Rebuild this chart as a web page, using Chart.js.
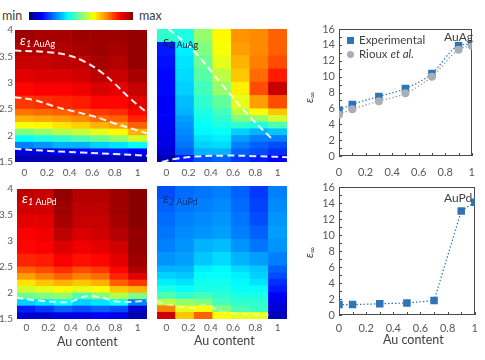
<!DOCTYPE html>
<html>
<head>
<meta charset="utf-8">
<script src="https://cdn.jsdelivr.net/npm/chart.js@4.4.1/dist/chart.umd.min.js"></script>
<style>
  html, body { margin: 0; padding: 0; background: #fff; }
  #fig { position: relative; width: 485px; height: 360px; overflow: hidden; font-family: Lato, "Open Sans", sans-serif; color: #404040; }
  #fig canvas { position: absolute; }
  .txt { position: absolute; white-space: nowrap; line-height: 1; }
  .eps { position: absolute; white-space: nowrap; line-height: 1; font-size: 14px; }
  .eps sub { font-size: 9px; vertical-align: -2px; }
  .ylab { position: absolute; font-size: 12px; transform: rotate(-90deg); transform-origin: center; white-space: nowrap; line-height: 1; }
  .ylab sub { font-size: 8px; vertical-align: -2px; }
</style>
</head>
<body>
<div id="fig">
  <div class="txt" style="left:2px;top:10px;font-size:12.5px">min</div>
  <div id="cbar" style="position:absolute;left:29px;top:12px;width:104px;height:8px"></div>
  <div class="txt" style="left:139px;top:10px;font-size:12.5px">max</div>

  <canvas id="h1" width="150" height="160" style="left:0;top:22px"></canvas>
  <canvas id="h2" width="140" height="160" style="left:150px;top:22px"></canvas>
  <canvas id="h3" width="150" height="160" style="left:0;top:179px"></canvas>
  <canvas id="h4" width="140" height="160" style="left:150px;top:179px"></canvas>
  <canvas id="r1" width="195" height="175" style="left:290px;top:15px"></canvas>
  <canvas id="r2" width="195" height="175" style="left:290px;top:175px"></canvas>

  <div class="eps" style="left:20px;top:33px;color:#fff"><i>ε</i><sub><i>1</i> AuAg</sub></div>
  <div class="eps" style="left:163px;top:34px;color:#1a1a2e"><i>ε</i><sub><i>2</i> AuAg</sub></div>
  <div class="eps" style="left:22px;top:191px;color:#fff"><i>ε</i><sub><i>1</i> AuPd</sub></div>
  <div class="eps" style="left:163px;top:191px;color:#1b2a6b"><i>ε</i><sub><i>2</i> AuPd</sub></div>

  <div class="txt" style="left:57px;top:336px;font-size:12.5px">Au content</div>
  <div class="txt" style="left:194px;top:335px;font-size:12.5px">Au content</div>
  <div class="txt" style="left:383px;top:334px;font-size:12.5px">Au content</div>

  <div class="ylab" style="left:304px;top:91px"><i>ε</i><sub>∞</sub></div>
  <div class="ylab" style="left:304px;top:246px"><i>ε</i><sub>∞</sub></div>

  <div style="position:absolute;left:347px;top:37px;width:7px;height:7px;background:#2E75B6"></div>
  <div class="txt" style="left:359px;top:34px;font-size:11.5px">Experimental</div>
  <div style="position:absolute;left:347px;top:51px;width:7px;height:7px;border-radius:50%;background:#A9AEB9"></div>
  <div class="txt" style="left:359px;top:48px;font-size:11.5px">Rioux <i>et al.</i></div>
  <div class="txt" style="left:444px;top:31px;font-size:12px">AuAg</div>
  <div class="txt" style="left:444px;top:192px;font-size:12px">AuPd</div>
</div>
<script>
// composition axis (right panels)
const auContent = [0, 0.1, 0.3, 0.5, 0.7, 0.9, 1];
const epsInfAuAgExp = [5.8, 6.5, 7.5, 8.5, 10.4, 13.9, 14.1];
const epsInfAuAgRioux = [5.2, 5.9, 6.9, 7.9, 10.0, 13.4, 13.9];
const epsInfAuPdExp = [1.3, 1.3, 1.4, 1.5, 1.8, 13.0, 14.1];

const epsTicks = [0, 2, 4, 6, 8, 10, 12, 14, 16];
const compTicks = [0, 0.2, 0.4, 0.6, 0.8, 1];
const compLabels = ["0", "0.2", "0.4", "0.6", "0.8", "1"];

// heatmaps: columns at these compositions, rows between energy edges (eV)
const xCenters = [0, 0.1667, 0.3333, 0.5, 0.6667, 0.8333, 1];
const energyEdges = [1.5, 1.625, 1.75, 1.875, 2, 2.125, 2.25, 2.375, 2.5, 2.75, 3, 3.25, 3.5, 3.75, 4];
const energyTicks = [1.5, 2, 2.5, 3, 3.5, 4];
const energyLabels = ["1.5", "2", "2.5", "3", "3.5", "4"];

// normalised level (0 = min, 1 = max), one list per column, bottom row first
const e1AuAg = [
  [0.05, 0.1, 0.25, 0.38, 0.5, 0.62, 0.7, 0.76, 0.82, 0.87, 0.9, 0.93, 0.95, 0.97],
  [0.05, 0.1, 0.27, 0.4, 0.52, 0.63, 0.71, 0.77, 0.83, 0.88, 0.91, 0.93, 0.95, 0.96],
  [0.05, 0.12, 0.3, 0.42, 0.55, 0.65, 0.72, 0.78, 0.84, 0.88, 0.91, 0.94, 0.95, 0.96],
  [0.05, 0.12, 0.3, 0.45, 0.57, 0.67, 0.74, 0.8, 0.85, 0.89, 0.92, 0.94, 0.96, 0.97],
  [0.06, 0.14, 0.33, 0.48, 0.6, 0.7, 0.77, 0.82, 0.87, 0.91, 0.94, 0.96, 0.97, 0.97],
  [0.06, 0.15, 0.35, 0.52, 0.63, 0.72, 0.78, 0.83, 0.87, 0.9, 0.93, 0.95, 0.96, 0.97],
  [0.05, 0.12, 0.38, 0.58, 0.7, 0.78, 0.84, 0.87, 0.9, 0.93, 0.96, 0.98, 0.98, 0.98]
];
const e2AuAg = [
  [0.05, 0.08, 0.1, 0.1, 0.11, 0.11, 0.12, 0.12, 0.12, 0.13, 0.13, 0.14, 0.15, 0.42],
  [0.15, 0.22, 0.24, 0.25, 0.26, 0.27, 0.28, 0.3, 0.31, 0.33, 0.34, 0.35, 0.36, 0.4],
  [0.2, 0.3, 0.33, 0.35, 0.37, 0.38, 0.39, 0.4, 0.42, 0.44, 0.46, 0.48, 0.5, 0.52],
  [0.22, 0.3, 0.34, 0.36, 0.38, 0.4, 0.42, 0.44, 0.47, 0.52, 0.56, 0.6, 0.62, 0.63],
  [0.18, 0.22, 0.25, 0.28, 0.33, 0.42, 0.5, 0.56, 0.6, 0.64, 0.68, 0.7, 0.72, 0.73],
  [0.15, 0.2, 0.22, 0.25, 0.3, 0.4, 0.52, 0.62, 0.72, 0.8, 0.77, 0.75, 0.74, 0.74],
  [0.12, 0.17, 0.2, 0.25, 0.32, 0.45, 0.58, 0.68, 0.8, 0.93, 0.85, 0.8, 0.78, 0.78]
];
const e1AuPd = [
  [0.08, 0.15, 0.33, 0.48, 0.58, 0.65, 0.72, 0.78, 0.84, 0.87, 0.88, 0.9, 0.92, 0.94],
  [0.08, 0.18, 0.35, 0.5, 0.6, 0.68, 0.75, 0.8, 0.85, 0.88, 0.89, 0.9, 0.92, 0.93],
  [0.1, 0.22, 0.38, 0.52, 0.62, 0.7, 0.78, 0.83, 0.88, 0.91, 0.94, 0.96, 0.97, 0.98],
  [0.1, 0.2, 0.33, 0.45, 0.6, 0.68, 0.75, 0.8, 0.86, 0.89, 0.91, 0.93, 0.94, 0.95],
  [0.12, 0.22, 0.35, 0.5, 0.62, 0.7, 0.77, 0.82, 0.87, 0.9, 0.92, 0.93, 0.94, 0.95],
  [0.1, 0.2, 0.38, 0.55, 0.68, 0.78, 0.84, 0.87, 0.9, 0.92, 0.95, 0.96, 0.97, 0.97],
  [0.05, 0.08, 0.25, 0.5, 0.7, 0.82, 0.9, 0.95, 0.97, 0.98, 0.98, 0.99, 0.99, 0.99]
];
const e2AuPd = [
  [0.92, 0.75, 0.55, 0.45, 0.4, 0.36, 0.33, 0.3, 0.27, 0.25, 0.24, 0.23, 0.22, 0.2],
  [0.68, 0.6, 0.52, 0.42, 0.38, 0.35, 0.32, 0.3, 0.28, 0.27, 0.26, 0.25, 0.24, 0.23],
  [0.78, 0.62, 0.5, 0.44, 0.4, 0.39, 0.38, 0.36, 0.32, 0.3, 0.27, 0.26, 0.25, 0.24],
  [0.62, 0.5, 0.44, 0.42, 0.4, 0.39, 0.38, 0.37, 0.34, 0.31, 0.28, 0.27, 0.26, 0.25],
  [0.6, 0.45, 0.42, 0.4, 0.38, 0.37, 0.36, 0.34, 0.3, 0.27, 0.25, 0.24, 0.23, 0.22],
  [0.6, 0.43, 0.42, 0.4, 0.38, 0.35, 0.33, 0.32, 0.28, 0.24, 0.22, 0.2, 0.19, 0.18],
  [0.06, 0.08, 0.1, 0.12, 0.15, 0.17, 0.2, 0.22, 0.25, 0.27, 0.28, 0.27, 0.26, 0.25]
];

// white dashed guide curves
const e1AuAgTopX = [-0.09, 0.21, 0.39, 0.54, 0.68, 0.8, 0.92, 1.09];
const e1AuAgTopE = [3.61, 3.58, 3.52, 3.39, 3.2, 2.98, 2.73, 2.42];
const e1AuAgMidX = [-0.09, 0.09, 0.27, 0.45, 0.62, 0.8, 1.09];
const e1AuAgMidE = [2.73, 2.67, 2.55, 2.45, 2.36, 2.23, 2.04];
const e1AuAgLowX = [-0.09, 0.21, 0.51, 0.8, 1.09];
const e1AuAgLowE = [1.75, 1.71, 1.68, 1.65, 1.62];
const e2AuAgDiagX = [0.02, 0.24, 0.51, 0.75, 0.96];
const e2AuAgDiagE = [4.0, 3.6, 2.93, 2.35, 1.91];
const e2AuAgLowX = [-0.04, 0.06, 0.24, 0.54, 0.81, 1.09];
const e2AuAgLowE = [1.5, 1.55, 1.6, 1.62, 1.61, 1.59];
const e1AuPdX = [-0.09, 0.08, 0.26, 0.39, 0.54, 0.68, 0.83, 1.09];
const e1AuPdE = [1.91, 1.86, 1.83, 1.83, 1.94, 1.91, 1.83, 1.85];
const e2AuPdX = [-0.09, 0.09, 0.24, 0.36, 0.48, 0.66, 0.92];
const e2AuPdE = [1.83, 1.74, 1.71, 1.77, 1.65, 1.6, 1.58];

const fontFamily = "Lato, 'Open Sans', sans-serif";
const tickGray = "#595959";
const axisGray = "#4a4a4a";

function clamp(v) { return Math.max(0, Math.min(1, v)); }
function jet(v) {
  const r = clamp(1.5 - Math.abs(4 * v - 3));
  const g = clamp(1.5 - Math.abs(4 * v - 2));
  const b = clamp(1.5 - Math.abs(4 * v - 1));
  return "rgb(" + Math.round(r * 255) + "," + Math.round(g * 255) + "," + Math.round(b * 255) + ")";
}

document.getElementById("cbar").style.background =
  "linear-gradient(to right," + [0, 0.125, 0.25, 0.375, 0.5, 0.625, 0.75, 0.875, 1].map(s => jet(s) + " " + (s * 100) + "%").join(",") + ")";

function makeHeatmap(id, grid, curves, cfg) {
  const datasets = [];
  for (let r = 0; r < energyEdges.length - 1; r++) {
    datasets.push({
      type: "bar",
      data: xCenters.map(x => ({ x: x, y: [energyEdges[r], energyEdges[r + 1]] })),
      backgroundColor: grid.map(col => jet(col[r])),
      grouped: false,
      barPercentage: 1,
      categoryPercentage: 1,
      borderWidth: 0,
      order: 2
    });
  }
  curves.forEach(c => {
    datasets.push({
      type: "line",
      data: c.x.map((x, i) => ({ x: x, y: c.e[i] })),
      borderColor: c.color,
      borderWidth: 2,
      borderDash: [7, 4],
      pointRadius: 0,
      tension: 0.4,
      fill: false,
      order: 1
    });
  });

  new Chart(document.getElementById(id), {
    type: "bar",
    data: { datasets: datasets },
    options: {
      responsive: false,
      animation: false,
      layout: { padding: cfg.padding },
      plugins: { legend: { display: false }, tooltip: { enabled: false } },
      scales: {
        x: {
          type: "linear", min: -0.0833, max: 1.0833, offset: false,
          grid: { display: false, drawTicks: false }, border: { display: false },
          afterBuildTicks: s => { s.ticks = compTicks.map(v => ({ value: v })); },
          afterFit: s => { s.height = cfg.xh; },
          ticks: {
            color: tickGray, font: { family: fontFamily, size: 10 }, padding: cfg.xpad,
            maxRotation: 0, autoSkip: false, callback: (v, i) => compLabels[i]
          }
        },
        y: {
          display: cfg.showY, min: 1.5, max: 4,
          grid: { display: false, drawTicks: false }, border: { display: false },
          afterBuildTicks: s => { s.ticks = energyTicks.map(v => ({ value: v })); },
          afterFit: s => { s.width = cfg.yw; },
          ticks: {
            color: tickGray, font: { family: fontFamily, size: 10 }, padding: cfg.ypad,
            autoSkip: false, callback: (v, i) => energyLabels[i]
          }
        }
      }
    }
  });
}

const white = "rgba(255,255,255,0.92)";
makeHeatmap("h1", e1AuAg, [
  { x: e1AuAgTopX, e: e1AuAgTopE, color: white },
  { x: e1AuAgMidX, e: e1AuAgMidE, color: white },
  { x: e1AuAgLowX, e: e1AuAgLowE, color: white }
], { padding: { top: 7, right: 3 }, xh: 20, xpad: 5, showY: true, yw: 15, ypad: 2 });

makeHeatmap("h2", e2AuAg, [
  { x: e2AuAgDiagX, e: e2AuAgDiagE, color: white },
  { x: e2AuAgLowX, e: e2AuAgLowE, color: white }
], { padding: { top: 7, left: 7, right: 3 }, xh: 20, xpad: 5, showY: false, yw: 0, ypad: 0 });

makeHeatmap("h3", e1AuPd, [
  { x: e1AuPdX, e: e1AuPdE, color: "rgba(255,255,255,0.8)" }
], { padding: { top: 7, right: 3 }, xh: 20, xpad: 3, showY: true, yw: 17, ypad: 4 });

makeHeatmap("h4", e2AuPd, [
  { x: e2AuPdX, e: e2AuPdE, color: "rgba(255,255,255,0.45)" }
], { padding: { top: 7, left: 7, right: 3 }, xh: 20, xpad: 3, showY: false, yw: 0, ypad: 0 });

// frame and small inward ticks for the right panels
const frameTicks = {
  id: "frameTicks",
  beforeDatasetsDraw(chart) {
    const { ctx, chartArea: a, scales } = chart;
    ctx.save();
    ctx.strokeStyle = axisGray;
    ctx.lineWidth = 1;
    ctx.strokeRect(Math.round(a.left) + 0.5, Math.round(a.top) + 0.5, Math.round(a.width) - 1, Math.round(a.height) - 1);
    ctx.beginPath();
    for (let v = 0; v <= 16; v++) {
      const py = Math.round(scales.y.getPixelForValue(v)) + 0.5;
      ctx.moveTo(a.left, py); ctx.lineTo(a.left + 3, py);
    }
    for (let k = 0; k <= 10; k++) {
      const px = Math.round(scales.x.getPixelForValue(k / 10)) + 0.5;
      ctx.moveTo(px, a.bottom); ctx.lineTo(px, a.bottom - 3);
    }
    ctx.stroke();
    ctx.restore();
  }
};

function makeEpsPlot(id, datasets, cfg) {
  new Chart(document.getElementById(id), {
    type: "scatter",
    data: { datasets: datasets },
    plugins: [frameTicks],
    options: {
      responsive: false,
      animation: false,
      layout: { padding: cfg.padding },
      plugins: { legend: { display: false }, tooltip: { enabled: false } },
      scales: {
        x: {
          min: 0, max: 1,
          grid: { display: false, drawTicks: false }, border: { display: false },
          afterBuildTicks: s => { s.ticks = compTicks.map(v => ({ value: v })); },
          afterFit: s => { s.height = cfg.xh; },
          ticks: {
            color: tickGray, font: { family: fontFamily, size: 11 }, padding: cfg.xpad,
            maxRotation: 0, autoSkip: false, callback: (v, i) => compLabels[i]
          }
        },
        y: {
          min: 0, max: 16,
          grid: { display: false, drawTicks: false }, border: { display: false },
          afterBuildTicks: s => { s.ticks = epsTicks.map(v => ({ value: v })); },
          afterFit: s => { s.width = 49; },
          ticks: { color: tickGray, font: { family: fontFamily, size: 11 }, padding: 4, autoSkip: false }
        }
      }
    }
  });
}

function series(ys, style) {
  return Object.assign({
    data: auContent.map((x, i) => ({ x: x, y: ys[i] })),
    showLine: true,
    borderWidth: 1.2,
    borderDash: [1.5, 2],
    cubicInterpolationMode: "monotone",
    pointBorderWidth: 0
  }, style);
}

makeEpsPlot("r1", [
  series(epsInfAuAgRioux, {
    pointStyle: "circle", pointRadius: 4, backgroundColor: "#A9AEB9", borderColor: "#9AA0AE", order: 1
  }),
  series(epsInfAuAgExp, {
    pointStyle: "rect", pointRadius: 5.3, backgroundColor: "#2E75B6", borderColor: "#2E75B6", order: 2
  })
], { padding: { top: 14, right: 5 }, xh: 34, xpad: 10 });

makeEpsPlot("r2", [
  series(epsInfAuPdExp, {
    pointStyle: "rect", pointRadius: 5.3, backgroundColor: "#2E75B6", borderColor: "#2E75B6",
    cubicInterpolationMode: "default", tension: 0
  })
], { padding: { top: 12, right: 5 }, xh: 35, xpad: 7 });
</script>
</body>
</html>
